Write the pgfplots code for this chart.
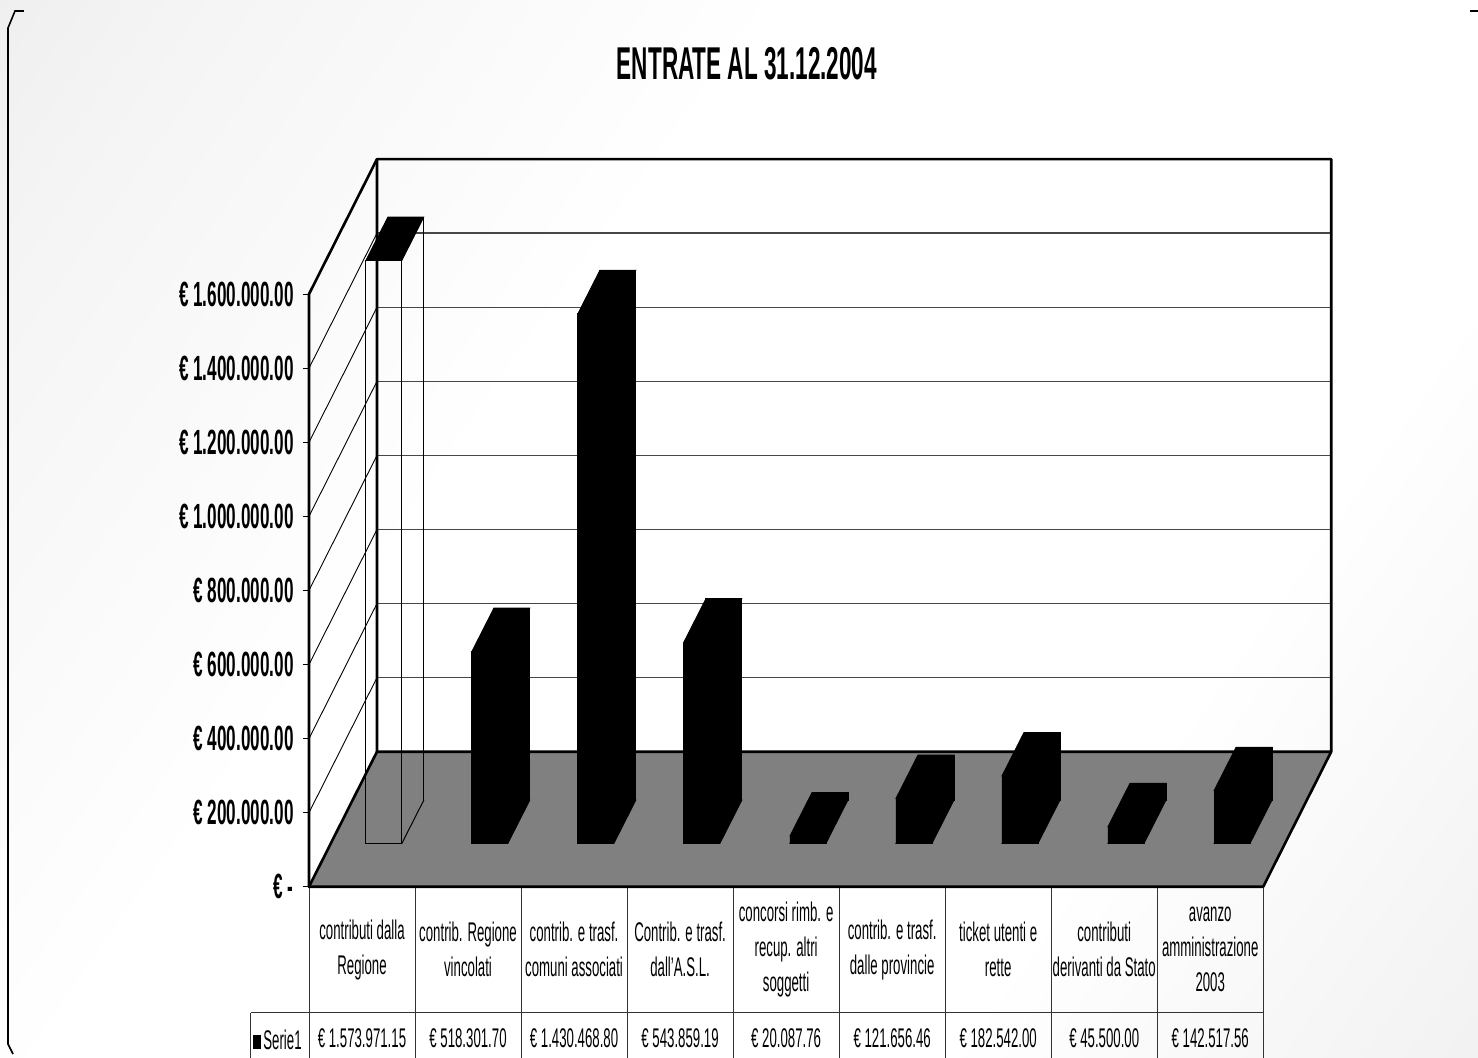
\documentclass[border=0pt]{standalone}
\usepackage{fontspec}
\setmainfont{Liberation Sans}[FakeStretch=0.49]
\usepackage{pgfplots}
\pgfplotsset{compat=1.18}
\usepackage{pgfplotstable}

% entrate al 31.12.2004, one row per category (k = position)
\pgfplotstableread{
k v
0 1573971.15
1 518301.70
2 1430468.80
3 543859.19
4 20087.76
5 121656.46
6 182542.00
7 45500.00
8 142517.56
}\entrate

% 1 px of the reference = 0.5pt; all three axes share one scale
\pgfplotsset{
  box3d/.style={scale only axis, width=511.1pt, height=363.8pt,
    xmin=-0.5, xmax=9.1413, ymin=0, ymax=1964500, clip=false},
}
\tikzset{wall/.style={line width=1.3pt, line cap=round, line join=round},
  wallgrid/.style={black!72, line width=0.7pt}}

\pgfdeclarehorizontalshading{chartbg}{100bp}{color(0bp)=(black!11); color(22bp)=(black!4);
  color(40bp)=(white); color(68bp)=(white); color(100bp)=(black!10)}

% top (and hidden bottom) face of a bar, drawn at the front-top centre
\pgfdeclareplotmark{face}{%
  \pgfpathmoveto{\pgfqpoint{-9pt}{0pt}}%
  \pgfpathlineto{\pgfqpoint{9pt}{0pt}}%
  \pgfpathlineto{\pgfqpoint{20pt}{21.7pt}}%
  \pgfpathlineto{\pgfqpoint{2pt}{21.7pt}}%
  \pgfpathclose\pgfusepathqfillstroke}
% lower right edge of the see-through bar
\pgfdeclareplotmark{edge}{%
  \pgfpathmoveto{\pgfqpoint{9pt}{0pt}}%
  \pgfpathlineto{\pgfqpoint{20pt}{21.7pt}}%
  \pgfusepathqstroke}

\begin{document}
\begin{tikzpicture}

\begin{scope}[shift={(-154.5pt,443.35pt)},x=0.5pt,y=-0.5pt]
  \shade[shading=chartbg, shading angle=-35] (0,0) rectangle (1478,1057);
  \draw[line width=0.8pt] (24,11) -- (15,11) -- (8,28) -- (8,1044) -- (13,1054);
  \draw[line width=0.8pt] (1470,11) -- (1478,11);
  \node[font=\fontsize{23pt}{27pt}\selectfont\bfseries] at (747,64) {ENTRATE AL 31.12.2004};
\end{scope}

% walls, floor, value axis
\begin{axis}[box3d, at={(0,0)}, anchor=south west,
  axis line style={draw=none}, xtick=\empty, scaled y ticks=false,
  ytick={0,200000,400000,600000,800000,1000000,1200000,1400000,1600000},
  yticklabels={{€ -\hspace{9.5pt}},{€ 200.000.00},{€ 400.000.00},{€ 600.000.00},{€ 800.000.00},
    {€ 1.000.000.00},{€ 1.200.000.00},{€ 1.400.000.00},{€ 1.600.000.00}},
  ytick pos=left, tick align=outside, major tick length=3pt,
  tick style={black, line width=0.5pt},
  yticklabel style={font=\fontsize{17.5pt}{20pt}\selectfont\bfseries, anchor=east,
    inner sep=0pt, xshift=-4.5pt},
]
\fill[gray] (-0.5,0) -- (8.5,0) -- (9.1413,364500) -- (0.1413,364500) -- cycle;
\draw[wallgrid] (0.1413,564500) -- (9.1413,564500);
\draw[wallgrid] (0.1413,764500) -- (9.1413,764500);
\draw[wallgrid] (0.1413,964500) -- (9.1413,964500);
\draw[wallgrid] (0.1413,1164500) -- (9.1413,1164500);
\draw[wallgrid] (0.1413,1364500) -- (9.1413,1364500);
\draw[wallgrid] (0.1413,1564500) -- (9.1413,1564500);
\draw[wallgrid] (0.1413,1764500) -- (9.1413,1764500);
\draw[line width=0.45pt] (-0.5,200000) -- (0.1413,564500);
\draw[line width=0.45pt] (-0.5,400000) -- (0.1413,764500);
\draw[line width=0.45pt] (-0.5,600000) -- (0.1413,964500);
\draw[line width=0.45pt] (-0.5,800000) -- (0.1413,1164500);
\draw[line width=0.45pt] (-0.5,1000000) -- (0.1413,1364500);
\draw[line width=0.45pt] (-0.5,1200000) -- (0.1413,1564500);
\draw[line width=0.45pt] (-0.5,1400000) -- (0.1413,1764500);
\draw[wall] (-0.5,0) -- (8.5,0) -- (9.1413,364500) -- (9.1413,1964500) -- (0.1413,1964500)
  -- (0.1413,364500) -- (9.1413,364500);
\draw[wall] (-0.5,0) -- (-0.5,1600000) -- (0.1413,1964500);
\draw[wall] (-0.5,0) -- (0.1413,364500);
\end{axis}

% back faces of the bars
\begin{axis}[box3d, hide axis, at={(21.9pt,43.3pt)}, anchor=south west]
\addplot[ybar, bar width=18pt, bar shift=0pt, fill=black, draw=black,
  restrict x to domain=0.5:8.5] table[x=k,y=v]{\entrate};
\addplot[ybar, bar width=0.01pt, bar shift=9pt, draw=black, line width=0.5pt,
  restrict x to domain=-0.5:0.5] table[x=k,y=v]{\entrate};
\end{axis}

% front faces and top faces
\begin{axis}[box3d, hide axis, at={(10.9pt,21.6pt)}, anchor=south west]
\addplot[only marks, mark=face, mark options={fill=black,draw=black},
  restrict x to domain=0.5:8.5] table[x=k,y expr=0]{\entrate};
\addplot[ybar, bar width=18pt, bar shift=0pt, fill=black, draw=black,
  restrict x to domain=0.5:8.5] table[x=k,y=v]{\entrate};
\addplot[ybar, bar width=18pt, bar shift=0pt, fill=none, draw=black, line width=0.5pt,
  restrict x to domain=-0.5:0.5] table[x=k,y=v]{\entrate};
\addplot[only marks, mark=edge, mark options={draw=black, line width=0.5pt},
  restrict x to domain=-0.5:0.5] table[x=k,y expr=0]{\entrate};
\addplot[only marks, mark=face, mark options={fill=black,draw=black}]
  table[x=k,y=v]{\entrate};
\end{axis}

% data table under the chart
\begin{scope}[shift={(-154.5pt,443.35pt)},x=0.5pt,y=-0.5pt]
  \draw[black!80, line width=0.5pt] (250.7,1012.7) -- (1263.3,1012.7);
  \draw[black!80, line width=0.5pt] (250.7,1012.7) -- (250.7,1060);
  \foreach \i in {0,...,9}
    \draw[black!80, line width=0.5pt] ({309+106.03*\i},887.5) -- ({309+106.03*\i},1060);
  \foreach \i/\t in {0/{contributi dalla\\Regione}, 1/{contrib. Regione\\vincolati},
      2/{contrib. e trasf.\\comuni associati}, 3/{Contrib. e trasf.\\dall'A.S.L.},
      4/{concorsi rimb. e\\recup. altri\\soggetti}, 5/{contrib. e trasf.\\dalle provincie},
      6/{ticket utenti e\\rette}, 7/{contributi\\derivanti da Stato},
      8/{avanzo\\amministrazione\\2003}}
    \node[align=center, font=\fontsize{13.5pt}{17.5pt}\selectfont, inner sep=0pt]
      at ({362+106.03*\i},949.7) {\t};
  \foreach \i/\t in {0/{€ 1.573.971.15}, 1/{€ 518.301.70}, 2/{€ 1.430.468.80},
      3/{€ 543.859.19}, 4/{€ 20.087.76}, 5/{€ 121.656.46}, 6/{€ 182.542.00},
      7/{€ 45.500.00}, 8/{€ 142.517.56}}
    \node[font=\fontsize{13.5pt}{17.5pt}\selectfont, inner sep=0pt]
      at ({362+106.03*\i},1038) {\t};
  \fill[black] (253.5,1035) rectangle (261.5,1049);
  \node[font=\fontsize{13.5pt}{17.5pt}\selectfont, anchor=west, inner sep=0pt] at (263,1040) {Serie1};
  \pgfresetboundingbox
  \useasboundingbox (0,0) rectangle (1478,1057);
\end{scope}
\end{tikzpicture}
\end{document}
